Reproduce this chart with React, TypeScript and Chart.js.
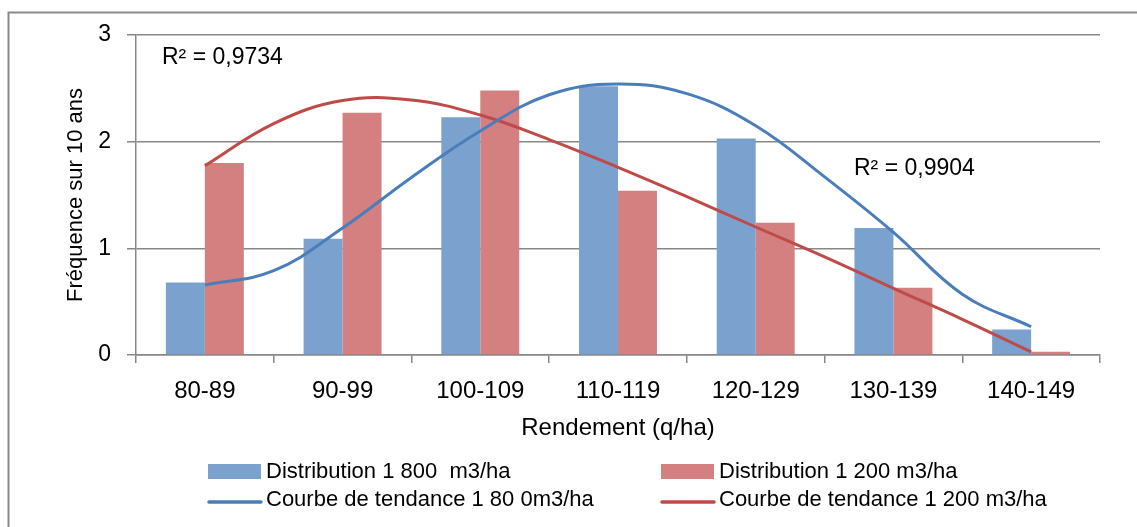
import React, { useEffect, useRef } from 'react';
import { Chart, registerables } from 'chart.js';

Chart.register(...registerables);

// ---- data ----
const categories = ['80-89', '90-99', '100-109', '110-119', '120-129', '130-139', '140-149'];
const dist1800 = [0.68, 1.09, 2.23, 2.52, 2.03, 1.19, 0.24];
const dist1200 = [1.8, 2.27, 2.48, 1.54, 1.24, 0.63, 0.03];
// trend curves at every half category (category index)
const trendPositions = [0, 0.5, 1, 1.5, 2, 2.5, 3, 3.5, 4, 4.5, 5, 5.5, 6];
const trend1800 = [0.656, 0.79, 1.19, 1.665, 2.1, 2.44, 2.54, 2.45, 2.15, 1.67, 1.15, 0.57, 0.265];
const trend1200 = [1.775, 2.17, 2.385, 2.39, 2.25, 2.02, 1.76, 1.485, 1.2, 0.92, 0.625, 0.335, 0.03];
const yTickValues = [0, 1, 2, 3];
const seriesLabels = [
  'Distribution 1 800  m3/ha',
  'Distribution 1 200 m3/ha',
  'Courbe de tendance 1 80 0m3/ha',
  'Courbe de tendance 1 200 m3/ha',
];
const r2Labels = ['R² = 0,9734', 'R² = 0,9904'];
const xTitle = 'Rendement (q/ha)';
const yTitle = 'Fréquence sur 10 ans';

// ---- styles ----
const FONT = "'Liberation Sans', Arial, sans-serif";
const GRID = '#878787';
const BLUE_BAR = '#7BA1CE';
const RED_BAR = '#D48080';
const BLUE_LINE = '#4A7EBB';
const RED_LINE = '#BE4B48';

const decorPlugin = {
  id: 'decor',
  afterDraw(chart: any) {
    const ctx = chart.ctx as CanvasRenderingContext2D;
    const ca = chart.chartArea;
    ctx.save();
    // outer frame (top + left edges visible)
    ctx.strokeStyle = '#8A8A8A';
    ctx.lineWidth = 2;
    ctx.beginPath();
    ctx.moveTo(8.5, chart.height);
    ctx.lineTo(8.5, 12.5);
    ctx.lineTo(chart.width, 12.5);
    ctx.stroke();

    // R² annotations
    ctx.fillStyle = '#000';
    ctx.font = `23px ${FONT}`;
    ctx.textAlign = 'left';
    ctx.textBaseline = 'alphabetic';
    ctx.fillText(r2Labels[0], ca.left + 26, ca.top + 29);
    ctx.fillText(r2Labels[1], ca.left + 718, ca.top + 140);

    // legend (2 x 2 grid)
    const colX = [208, 661];
    const rowY = [471.5, 500];
    chart.data.datasets.forEach((ds: any, i: number) => {
      const x = colX[i % 2];
      const y = rowY[Math.floor(i / 2)];
      if (ds.type === 'line') {
        ctx.strokeStyle = ds.borderColor;
        ctx.lineWidth = 3.5;
        ctx.lineCap = 'round';
        ctx.beginPath();
        ctx.moveTo(x + 1, y + 2);
        ctx.lineTo(x + 53, y + 2);
        ctx.stroke();
      } else {
        ctx.fillStyle = ds.backgroundColor;
        ctx.fillRect(x, y - 7.5, 53, 15);
      }
      ctx.fillStyle = '#000';
      ctx.font = `22px ${FONT}`;
      ctx.textBaseline = 'middle';
      ctx.fillText(ds.label, x + 58, y);
    });
    ctx.restore();
  },
};

export default function App() {
  const ref = useRef<HTMLCanvasElement | null>(null);

  useEffect(() => {
    if (!ref.current) return;
    const chart = new Chart(ref.current, {
      type: 'bar',
      data: {
        datasets: [
          {
            type: 'bar',
            label: seriesLabels[0],
            data: dist1800.map((y, i) => ({ x: i, y })),
            backgroundColor: BLUE_BAR,
            borderWidth: 0,
            barPercentage: 1,
            categoryPercentage: 0.566,
            order: 2,
          },
          {
            type: 'bar',
            label: seriesLabels[1],
            data: dist1200.map((y, i) => ({ x: i, y })),
            backgroundColor: RED_BAR,
            borderWidth: 0,
            barPercentage: 1,
            categoryPercentage: 0.566,
            order: 2,
          },
          {
            type: 'line',
            label: seriesLabels[2],
            data: trendPositions.map((p, i) => ({ x: p, y: trend1800[i] })),
            borderColor: BLUE_LINE,
            borderWidth: 3,
            pointRadius: 0,
            fill: false,
            tension: 0.4,
            order: 0,
          },
          {
            type: 'line',
            label: seriesLabels[3],
            data: trendPositions.map((p, i) => ({ x: p, y: trend1200[i] })),
            borderColor: RED_LINE,
            borderWidth: 3,
            pointRadius: 0,
            fill: false,
            tension: 0.4,
            order: 1,
          },
        ] as any,
      },
      options: {
        responsive: false,
        animation: false,
        devicePixelRatio: 1,
        layout: { padding: { left: 0, top: 35, right: 37, bottom: 77 } },
        plugins: {
          legend: { display: false },
          tooltip: { enabled: false },
          title: { display: false },
        },
        scales: {
          x: {
            type: 'linear',
            min: -0.5,
            max: 6.5,
            offset: false,
            afterBuildTicks(scale: any) {
              scale.ticks = categories.map((_, i) => ({ value: i }));
            },
            grid: {
              display: true,
              drawOnChartArea: false,
              drawTicks: true,
              tickLength: 8,
              offset: true,
              color: GRID,
              lineWidth: 1.5,
            },
            border: { display: true, color: GRID, width: 1.5 },
            ticks: {
              color: '#000',
              font: { family: FONT, size: 24 },
              padding: 13.6,
              maxRotation: 0,
              autoSkip: false,
              callback: (v: any) => categories[Math.round(Number(v))] ?? '',
            },
            title: {
              display: true,
              text: xTitle,
              color: '#000',
              font: { family: FONT, size: 24 },
              padding: { top: 0, bottom: 7 },
            },
            afterFit(scale: any) {
              scale.height = 95;
            },
          },
          y: {
            type: 'linear',
            min: 0,
            max: 3,
            afterBuildTicks(scale: any) {
              scale.ticks = yTickValues.map((v) => ({ value: v }));
            },
            grid: {
              color: GRID,
              lineWidth: 1.5,
              tickLength: 9,
              drawTicks: true,
            },
            border: { display: true, color: GRID, width: 1.5 },
            ticks: {
              color: '#000',
              font: { family: FONT, size: 23 },
              padding: 16,
              callback: (v: any) => String(v),
            },
            title: {
              display: true,
              text: yTitle,
              color: '#000',
              font: { family: FONT, size: 22 },
              padding: { top: 63, bottom: 0 },
            },
            afterFit(scale: any) {
              scale.width = 136;
            },
          },
        },
      } as any,
      plugins: [decorPlugin],
    });
    return () => chart.destroy();
  }, []);

  return (
    <div style={{ position: 'fixed', left: 0, top: 0, width: 1137, height: 527, background: '#fff' }}>
      <canvas ref={ref} width={1137} height={527} style={{ display: 'block' }} />
    </div>
  );
}
